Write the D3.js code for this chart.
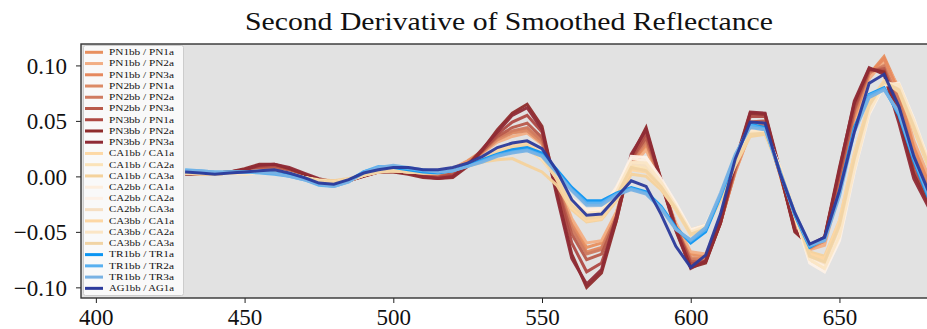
<!DOCTYPE html>
<html>
<head>
<meta charset="utf-8">
<script src="https://cdn.jsdelivr.net/npm/d3@7"></script>
<style>
  body { margin: 0; background: #fff; }
  svg { display: block; }
  text { font-family: "Liberation Serif", "DejaVu Serif", serif; fill: #111; }
</style>
</head>
<body>
<svg id="chart"></svg>
<script>
// wavelengths (nm)
const wavelengths = [430, 435, 440, 445, 450, 455, 460, 465, 470, 475,
  480, 485, 490, 495, 500, 505, 510, 515, 520, 525,
  530, 535, 540, 545, 550, 555, 560, 565, 570, 575,
  580, 585, 590, 595, 600, 605, 610, 615, 620, 625,
  630, 635, 640, 645, 650, 655, 660, 665, 670, 675, 680];

const seriesNames = ["PN1bb / PN1a", "PN1bb / PN2a", "PN1bb / PN3a",
  "PN2bb / PN1a", "PN2bb / PN2a", "PN2bb / PN3a",
  "PN3bb / PN1a", "PN3bb / PN2a", "PN3bb / PN3a",
  "CA1bb / CA1a", "CA1bb / CA2a", "CA1bb / CA3a",
  "CA2bb / CA1a", "CA2bb / CA2a", "CA2bb / CA3a",
  "CA3bb / CA1a", "CA3bb / CA2a", "CA3bb / CA3a",
  "TR1bb / TR1a", "TR1bb / TR2a", "TR1bb / TR3a",
  "AG1bb / AG1a"];

const seriesColors = ["#e8905f", "#f2ae84", "#e6895e",
  "#dc8b66", "#d07b60", "#b85a4a",
  "#ae4943", "#8e2b2b", "#8f2b36",
  "#fdd9a6", "#fbe3b8", "#f4d29c",
  "#fdeede", "#fdf1e7", "#f6dfc3",
  "#fdd7a4", "#fbe6c6", "#f1d4a4",
  "#0b95f2", "#58b0f0", "#78b2e4",
  "#2b3a9b"];

const pn1bb_pn1a = [0.004, 0.003, 0.003, 0.004, 0.005, 0.006, 0.006, 0.004, 0.000, -0.004,
  -0.005, -0.003, 0.002, 0.005, 0.005, 0.004, 0.002, 0.003, 0.007, 0.014,
  0.023, 0.034, 0.040, 0.042, 0.031, -0.004, -0.040, -0.064, -0.060, -0.033,
  0.011, 0.027, -0.007, -0.044, -0.070, -0.072, -0.041, 0.004, 0.040, 0.044,
  0.003, -0.044, -0.064, -0.059, -0.008, 0.052, 0.092, 0.108, 0.078, 0.028, -0.004];
const pn1bb_pn2a = [0.005, 0.004, 0.003, 0.004, 0.004, 0.005, 0.005, 0.003, 0.000, -0.003,
  -0.004, -0.003, 0.002, 0.005, 0.006, 0.005, 0.003, 0.003, 0.007, 0.013,
  0.021, 0.031, 0.036, 0.039, 0.029, -0.003, -0.038, -0.060, -0.058, -0.032,
  0.008, 0.024, -0.006, -0.042, -0.068, -0.070, -0.040, 0.004, 0.040, 0.043,
  0.004, -0.040, -0.066, -0.062, -0.012, 0.048, 0.088, 0.104, 0.080, 0.032, 0.000];
const pn1bb_pn3a = [0.004, 0.003, 0.002, 0.003, 0.004, 0.006, 0.007, 0.004, -0.001, -0.005,
  -0.006, -0.004, 0.001, 0.004, 0.005, 0.003, 0.001, 0.002, 0.006, 0.013,
  0.022, 0.034, 0.040, 0.043, 0.032, -0.006, -0.044, -0.068, -0.064, -0.036,
  0.012, 0.030, -0.006, -0.046, -0.073, -0.074, -0.042, 0.005, 0.041, 0.045,
  0.002, -0.046, -0.065, -0.058, -0.006, 0.054, 0.092, 0.106, 0.076, 0.026, -0.006];
const pn2bb_pn1a = [0.003, 0.003, 0.003, 0.004, 0.005, 0.007, 0.007, 0.005, 0.001, -0.004,
  -0.005, -0.003, 0.002, 0.004, 0.004, 0.003, 0.001, 0.001, 0.005, 0.012,
  0.022, 0.033, 0.039, 0.041, 0.030, -0.006, -0.045, -0.069, -0.065, -0.037,
  0.013, 0.031, -0.005, -0.046, -0.074, -0.075, -0.041, 0.006, 0.043, 0.046,
  0.002, -0.046, -0.063, -0.057, -0.004, 0.057, 0.093, 0.100, 0.070, 0.020, -0.010];
const pn2bb_pn2a = [0.004, 0.003, 0.003, 0.004, 0.005, 0.007, 0.008, 0.005, 0.001, -0.004,
  -0.006, -0.004, 0.001, 0.004, 0.005, 0.003, 0.001, 0.000, 0.005, 0.012,
  0.023, 0.035, 0.041, 0.044, 0.032, -0.007, -0.047, -0.070, -0.066, -0.036,
  0.014, 0.032, -0.004, -0.046, -0.075, -0.076, -0.042, 0.006, 0.044, 0.047,
  0.002, -0.047, -0.064, -0.057, -0.004, 0.058, 0.094, 0.099, 0.068, 0.018, -0.012];
const pn2bb_pn3a = [0.003, 0.003, 0.003, 0.004, 0.005, 0.008, 0.009, 0.006, 0.001, -0.004,
  -0.006, -0.004, 0.001, 0.004, 0.005, 0.003, 0.000, -0.001, 0.003, 0.011,
  0.023, 0.036, 0.044, 0.048, 0.035, -0.008, -0.052, -0.075, -0.070, -0.038,
  0.015, 0.035, -0.003, -0.046, -0.077, -0.077, -0.042, 0.008, 0.049, 0.050,
  0.004, -0.048, -0.063, -0.056, 0.000, 0.060, 0.095, 0.097, 0.062, 0.012, -0.016];
const pn3bb_pn1a = [0.003, 0.003, 0.003, 0.004, 0.006, 0.009, 0.010, 0.007, 0.002, -0.003,
  -0.005, -0.004, 0.000, 0.004, 0.005, 0.003, 0.000, -0.001, 0.001, 0.010,
  0.023, 0.038, 0.049, 0.055, 0.040, -0.009, -0.060, -0.086, -0.078, -0.040,
  0.016, 0.039, -0.002, -0.046, -0.079, -0.077, -0.042, 0.010, 0.054, 0.054,
  0.005, -0.049, -0.062, -0.055, 0.004, 0.063, 0.096, 0.095, 0.056, 0.006, -0.020];
const pn3bb_pn2a = [0.002, 0.002, 0.002, 0.004, 0.007, 0.011, 0.011, 0.007, 0.002, -0.003,
  -0.005, -0.004, 0.000, 0.004, 0.004, 0.002, -0.001, -0.002, -0.001, 0.009,
  0.024, 0.042, 0.057, 0.065, 0.045, -0.015, -0.070, -0.100, -0.087, -0.040,
  0.018, 0.044, -0.003, -0.048, -0.082, -0.078, -0.042, 0.012, 0.057, 0.056,
  0.004, -0.050, -0.062, -0.055, 0.008, 0.066, 0.097, 0.094, 0.052, 0.002, -0.025];
const pn3bb_pn3a = [0.003, 0.002, 0.003, 0.004, 0.006, 0.010, 0.011, 0.008, 0.003, -0.002,
  -0.005, -0.004, 0.001, 0.004, 0.005, 0.003, 0.000, -0.002, 0.000, 0.010,
  0.025, 0.040, 0.055, 0.062, 0.042, -0.018, -0.074, -0.097, -0.084, -0.036,
  0.020, 0.042, -0.005, -0.049, -0.083, -0.076, -0.040, 0.014, 0.058, 0.057,
  0.006, -0.048, -0.063, -0.056, 0.006, 0.068, 0.098, 0.092, 0.048, -0.002, -0.028];

const ca1bb_ca1a = [0.003, 0.003, 0.002, 0.003, 0.003, 0.004, 0.004, 0.002, -0.001, -0.004,
  -0.005, -0.003, 0.002, 0.005, 0.006, 0.005, 0.004, 0.004, 0.006, 0.010,
  0.015, 0.019, 0.022, 0.025, 0.015, -0.002, -0.024, -0.036, -0.035, -0.018,
  0.008, 0.006, -0.010, -0.030, -0.052, -0.047, -0.020, 0.012, 0.038, 0.040,
  0.008, -0.032, -0.070, -0.075, -0.042, 0.018, 0.065, 0.085, 0.078, 0.045, 0.010];
const ca1bb_ca2a = [0.004, 0.003, 0.003, 0.003, 0.002, 0.003, 0.003, 0.001, -0.002, -0.005,
  -0.006, -0.004, 0.001, 0.005, 0.006, 0.005, 0.004, 0.005, 0.007, 0.011,
  0.016, 0.020, 0.024, 0.026, 0.016, -0.001, -0.022, -0.034, -0.033, -0.016,
  0.010, 0.008, -0.008, -0.028, -0.050, -0.045, -0.018, 0.014, 0.040, 0.041,
  0.006, -0.036, -0.076, -0.082, -0.052, 0.008, 0.058, 0.084, 0.082, 0.050, 0.014];
const ca1bb_ca3a = [0.003, 0.002, 0.002, 0.003, 0.003, 0.004, 0.004, 0.002, -0.001, -0.003,
  -0.004, -0.002, 0.002, 0.004, 0.005, 0.004, 0.003, 0.004, 0.006, 0.009,
  0.013, 0.015, 0.016, 0.010, 0.004, -0.008, -0.030, -0.041, -0.039, -0.022,
  0.002, 0.000, -0.012, -0.030, -0.048, -0.044, -0.022, 0.010, 0.036, 0.038,
  0.006, -0.034, -0.068, -0.072, -0.040, 0.020, 0.066, 0.086, 0.076, 0.042, 0.008];
const ca2bb_ca1a = [0.004, 0.003, 0.003, 0.003, 0.003, 0.004, 0.004, 0.002, -0.001, -0.004,
  -0.005, -0.003, 0.002, 0.005, 0.006, 0.005, 0.004, 0.004, 0.006, 0.011,
  0.017, 0.022, 0.027, 0.029, 0.019, 0.002, -0.020, -0.030, -0.029, -0.010,
  0.016, 0.014, -0.004, -0.026, -0.050, -0.046, -0.018, 0.015, 0.040, 0.041,
  0.008, -0.033, -0.074, -0.080, -0.048, 0.012, 0.062, 0.086, 0.080, 0.046, 0.010];
const ca2bb_ca2a = [0.004, 0.004, 0.003, 0.003, 0.003, 0.003, 0.003, 0.002, -0.001, -0.004,
  -0.005, -0.003, 0.002, 0.005, 0.006, 0.006, 0.005, 0.005, 0.007, 0.011,
  0.017, 0.022, 0.026, 0.028, 0.018, 0.001, -0.022, -0.032, -0.031, -0.012,
  0.018, 0.017, -0.002, -0.024, -0.048, -0.044, -0.016, 0.016, 0.041, 0.042,
  0.008, -0.034, -0.078, -0.086, -0.058, 0.004, 0.056, 0.082, 0.084, 0.052, 0.014];
const ca2bb_ca3a = [0.003, 0.003, 0.002, 0.003, 0.003, 0.004, 0.004, 0.002, -0.001, -0.004,
  -0.005, -0.003, 0.002, 0.005, 0.005, 0.004, 0.004, 0.004, 0.006, 0.010,
  0.016, 0.021, 0.025, 0.027, 0.017, -0.001, -0.024, -0.035, -0.034, -0.016,
  0.012, 0.010, -0.006, -0.028, -0.051, -0.046, -0.019, 0.013, 0.039, 0.041,
  0.007, -0.033, -0.072, -0.078, -0.046, 0.014, 0.063, 0.085, 0.079, 0.046, 0.011];
const ca3bb_ca1a = [0.003, 0.002, 0.002, 0.003, 0.004, 0.005, 0.005, 0.003, -0.001, -0.004,
  -0.005, -0.003, 0.001, 0.004, 0.005, 0.004, 0.003, 0.003, 0.006, 0.011,
  0.017, 0.024, 0.028, 0.030, 0.020, -0.003, -0.028, -0.040, -0.038, -0.020,
  0.006, 0.004, -0.010, -0.030, -0.053, -0.048, -0.021, 0.011, 0.038, 0.040,
  0.006, -0.034, -0.070, -0.074, -0.040, 0.020, 0.066, 0.086, 0.077, 0.044, 0.009];
const ca3bb_ca2a = [0.004, 0.003, 0.003, 0.003, 0.003, 0.004, 0.004, 0.002, -0.002, -0.005,
  -0.006, -0.004, 0.001, 0.004, 0.006, 0.005, 0.004, 0.004, 0.007, 0.011,
  0.016, 0.021, 0.025, 0.027, 0.017, 0.000, -0.023, -0.033, -0.032, -0.014,
  0.013, 0.012, -0.005, -0.027, -0.050, -0.045, -0.018, 0.014, 0.040, 0.041,
  0.007, -0.035, -0.075, -0.083, -0.054, 0.006, 0.058, 0.083, 0.083, 0.050, 0.013];
const ca3bb_ca3a = [0.003, 0.003, 0.002, 0.003, 0.004, 0.005, 0.005, 0.003, -0.001, -0.004,
  -0.005, -0.003, 0.001, 0.004, 0.005, 0.004, 0.003, 0.003, 0.005, 0.010,
  0.016, 0.022, 0.026, 0.028, 0.018, -0.002, -0.026, -0.038, -0.036, -0.018,
  0.008, 0.005, -0.009, -0.029, -0.052, -0.047, -0.020, 0.012, 0.038, 0.039,
  0.006, -0.034, -0.072, -0.077, -0.044, 0.016, 0.064, 0.085, 0.078, 0.045, 0.010];

const tr1bb_tr1a = [0.005, 0.004, 0.003, 0.004, 0.004, 0.004, 0.003, 0.001, -0.002, -0.007,
  -0.008, -0.004, 0.004, 0.008, 0.008, 0.006, 0.004, 0.003, 0.005, 0.010,
  0.015, 0.020, 0.024, 0.026, 0.021, 0.006, -0.010, -0.022, -0.022, -0.015,
  -0.010, -0.014, -0.027, -0.046, -0.060, -0.050, -0.018, 0.018, 0.047, 0.044,
  0.004, -0.035, -0.064, -0.056, -0.014, 0.044, 0.074, 0.080, 0.055, 0.014, -0.020];
const tr1bb_tr2a = [0.006, 0.005, 0.004, 0.004, 0.004, 0.003, 0.002, 0.000, -0.003, -0.008,
  -0.009, -0.005, 0.004, 0.009, 0.009, 0.007, 0.005, 0.004, 0.005, 0.009,
  0.014, 0.019, 0.022, 0.024, 0.019, 0.004, -0.012, -0.024, -0.024, -0.016,
  -0.011, -0.015, -0.028, -0.047, -0.058, -0.048, -0.017, 0.019, 0.046, 0.043,
  0.004, -0.034, -0.063, -0.057, -0.016, 0.042, 0.073, 0.079, 0.056, 0.016, -0.018];
const tr1bb_tr3a = [0.005, 0.005, 0.004, 0.004, 0.004, 0.004, 0.003, 0.000, -0.003, -0.007,
  -0.009, -0.005, 0.003, 0.008, 0.010, 0.008, 0.006, 0.004, 0.005, 0.009,
  0.013, 0.018, 0.021, 0.023, 0.018, 0.003, -0.013, -0.026, -0.026, -0.017,
  -0.012, -0.016, -0.029, -0.048, -0.057, -0.046, -0.015, 0.020, 0.044, 0.042,
  0.005, -0.033, -0.062, -0.058, -0.018, 0.040, 0.071, 0.078, 0.058, 0.018, -0.016];
const ag1bb_ag1a = [0.004, 0.003, 0.002, 0.003, 0.004, 0.005, 0.006, 0.003, -0.001, -0.006,
  -0.007, -0.003, 0.003, 0.006, 0.008, 0.008, 0.006, 0.006, 0.008, 0.012,
  0.018, 0.026, 0.030, 0.032, 0.025, 0.005, -0.021, -0.035, -0.034, -0.019,
  -0.004, -0.009, -0.034, -0.063, -0.082, -0.071, -0.034, 0.016, 0.049, 0.048,
  0.003, -0.033, -0.061, -0.055, -0.013, 0.040, 0.084, 0.092, 0.063, 0.018, -0.014];

const seriesValues = [pn1bb_pn1a, pn1bb_pn2a, pn1bb_pn3a, pn2bb_pn1a, pn2bb_pn2a, pn2bb_pn3a,
  pn3bb_pn1a, pn3bb_pn2a, pn3bb_pn3a,
  ca1bb_ca1a, ca1bb_ca2a, ca1bb_ca3a, ca2bb_ca1a, ca2bb_ca2a, ca2bb_ca3a,
  ca3bb_ca1a, ca3bb_ca2a, ca3bb_ca3a,
  tr1bb_tr1a, tr1bb_tr2a, tr1bb_tr3a, ag1bb_ag1a];

const xTicks = [400, 450, 500, 550, 600, 650];
const yTicks = [-0.10, -0.05, 0.00, 0.05, 0.10];

const svgWidth = 927, svgHeight = 329;
const plot = {left: 81, right: 937, top: 44, bottom: 298};

const svg = d3.select("#chart")
    .attr("width", svgWidth)
    .attr("height", svgHeight);

const x = d3.scaleLinear().domain([395, 682.8]).range([plot.left, plot.right]);
const y = d3.scaleLinear().domain([-0.1096, 0.1193]).range([plot.bottom, plot.top]);

svg.append("defs").append("clipPath").attr("id", "clip")
  .append("rect")
    .attr("x", plot.left).attr("y", plot.top)
    .attr("width", plot.right - plot.left).attr("height", plot.bottom - plot.top);

// axes background
svg.append("rect")
    .attr("x", plot.left).attr("y", plot.top)
    .attr("width", plot.right - plot.left).attr("height", plot.bottom - plot.top)
    .attr("fill", "#e2e2e2");

// lines
const line = d3.line()
    .x((d, i) => x(wavelengths[i]))
    .y(d => y(d));

const lines = svg.append("g").attr("clip-path", "url(#clip)");
seriesValues.forEach((vals, k) => {
  lines.append("path")
      .datum(vals)
      .attr("d", line)
      .attr("fill", "none")
      .attr("stroke", seriesColors[k])
      .attr("stroke-width", 3)
      .attr("stroke-linejoin", "miter")
      .attr("stroke-opacity", 0.95);
});

// axes
const fmt = d => (d < 0 ? "\u2212" : "") + Math.abs(d).toFixed(2);

const xAxis = svg.append("g")
    .attr("transform", `translate(0,${plot.bottom})`)
    .call(d3.axisBottom(x).tickValues(xTicks).tickSize(5).tickPadding(6).tickFormat(d3.format("d")));
const yAxis = svg.append("g")
    .attr("transform", `translate(${plot.left},0)`)
    .call(d3.axisLeft(y).tickValues(yTicks).tickSize(5).tickPadding(9).tickFormat(fmt));

[xAxis, yAxis].forEach(ax => {
  ax.select(".domain").remove();
  ax.selectAll(".tick line").attr("stroke", "#222").attr("stroke-width", 1);
  ax.selectAll(".tick text")
      .attr("fill", "#111")
      .style("font-family", "'Liberation Serif', serif")
      .style("font-size", "23px");
});
xAxis.selectAll(".tick text").attr("dy", "0.68em");
yAxis.selectAll(".tick text").attr("dy", "0.35em");

// spines
svg.append("rect")
    .attr("x", plot.left).attr("y", plot.top)
    .attr("width", plot.right - plot.left).attr("height", plot.bottom - plot.top)
    .attr("fill", "none")
    .attr("stroke", "#333")
    .attr("stroke-width", 1.4);

// title
svg.append("text")
    .text("Second Derivative of Smoothed Reflectance")
    .attr("x", 509)
    .attr("y", 30)
    .attr("text-anchor", "middle")
    .attr("textLength", 528)
    .attr("lengthAdjust", "spacingAndGlyphs")
    .style("font-size", "25px");

// legend
const legend = svg.append("g");
legend.append("rect")
    .attr("x", 83.5).attr("y", 45.5)
    .attr("width", 100).attr("height", 250)
    .attr("rx", 2)
    .attr("fill", "#f9f9f9")
    .attr("stroke", "#cccccc")
    .attr("stroke-width", 1);

seriesNames.forEach((name, k) => {
  const cy = 52.3 + k * 11.24;
  legend.append("line")
      .attr("x1", 85).attr("x2", 103)
      .attr("y1", cy).attr("y2", cy)
      .attr("stroke", seriesColors[k])
      .attr("stroke-width", 3);
  legend.append("text")
      .text(name)
      .attr("x", 109)
      .attr("y", cy + 2.8)
      .attr("textLength", 65)
      .attr("lengthAdjust", "spacingAndGlyphs")
      .style("font-size", "8.5px");
});
</script>
</body>
</html>
